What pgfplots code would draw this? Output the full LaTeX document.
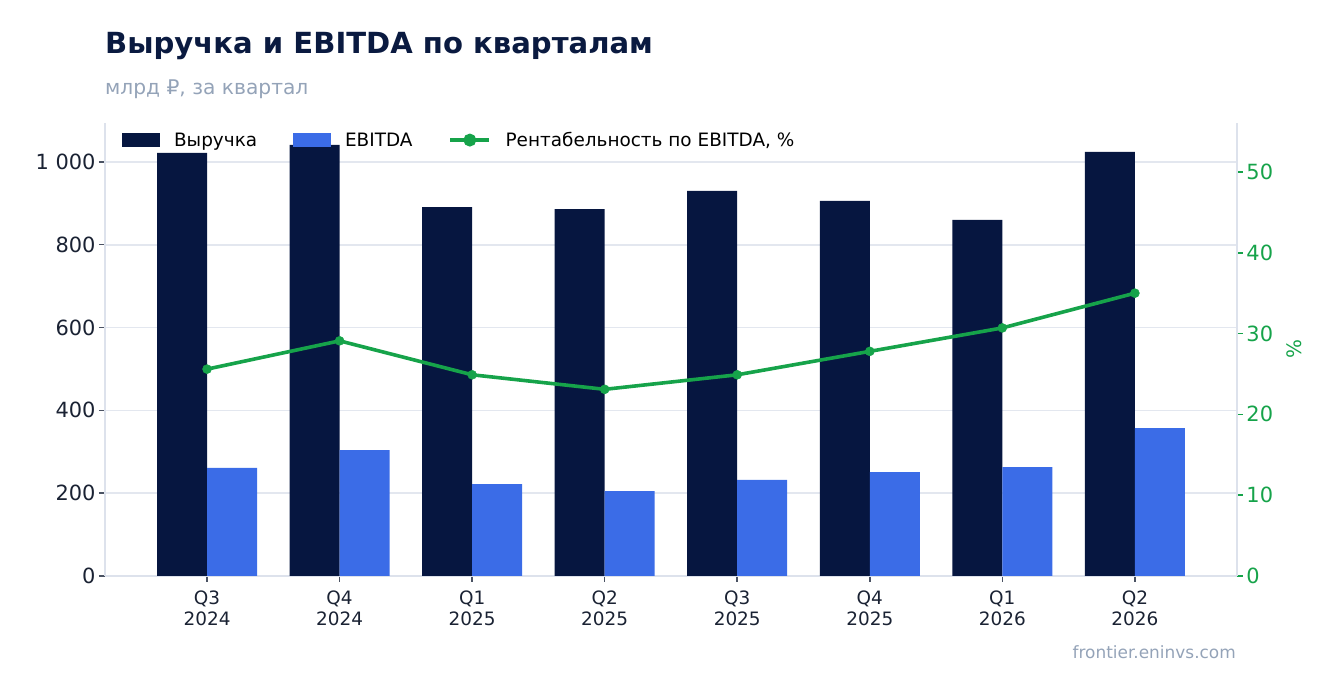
\documentclass[border=0pt]{standalone}
\usepackage{pgfplots}
\pgfplotsset{compat=1.18}
\usepackage{fontspec}
\setmainfont{DejaVu Sans}
\definecolor{navy}{HTML}{061640}
\definecolor{ebblue}{HTML}{3B6CE7}
\definecolor{mgreen}{HTML}{16A34A}
\definecolor{gridgray}{HTML}{E3E7EF}
\definecolor{axisgray}{HTML}{DDE2EC}
\definecolor{subgray}{HTML}{94A3B8}
\definecolor{titlenavy}{HTML}{0A1A40}
\definecolor{tickdark}{HTML}{1A2233}
\definecolor{tickmark}{HTML}{4A5263}
\begin{document}
\begin{tikzpicture}
\path[use as bounding box] (0,0) rectangle (1336bp,693bp);
\node[anchor=base west, inner sep=0, text=titlenavy, font=\bfseries\fontsize{29.2}{34}\selectfont] at (105bp,639bp) {Выручка и EBITDA по кварталам};
\node[anchor=base west, inner sep=0, text=subgray, font=\fontsize{20.3}{24}\selectfont] at (105bp,598bp) {млрд ₽, за квартал};
\node[anchor=base east, inner sep=0, text=subgray, font=\fontsize{17}{20}\selectfont] at (1236bp,35bp) {frontier.eninvs.com};
\begin{axis}[
  at={(105bp,117bp)}, anchor=south west,
  scale only axis, width=1132bp, height=453bp,
  xmin=-0.77, xmax=7.77, ymin=0, ymax=1094,
  axis x line*=bottom, axis y line*=left,
  axis line style={draw=axisgray, line width=1.2bp},
  xtick={0,...,7},
  xticklabels={{Q3\\2024},{Q4\\2024},{Q1\\2025},{Q2\\2025},{Q3\\2025},{Q4\\2025},{Q1\\2026},{Q2\\2026}},
  xticklabel style={align=center, font=\fontsize{18.5}{21}\selectfont, text=tickdark, yshift=-5bp},
  ytick={0,200,400,600,800,1000},
  yticklabels={0,200,400,600,800,{1 000}},
  yticklabel style={font=\fontsize{21}{24}\selectfont, text=tickdark},
  tick align=outside, major tick length=6bp,
  major tick style={draw=tickmark, line width=1.5bp},
  ymajorgrids, grid style={draw=gridgray, line width=1.6bp},
]
\addplot[ybar, bar width=50bp, bar shift=-25bp, fill=navy, draw=none] coordinates {
(0,1022) (1,1041) (2,891) (3,886) (4,930) (5,906) (6,860) (7,1024)};
\addplot[ybar, bar width=50bp, bar shift=25bp, fill=ebblue, draw=none] coordinates {
(0,261) (1,304) (2,222) (3,205) (4,232) (5,251) (6,263) (7,357)};
\end{axis}
\begin{axis}[
  at={(105bp,117bp)}, anchor=south west,
  scale only axis, width=1132bp, height=453bp,
  xmin=-0.77, xmax=7.77, ymin=0, ymax=56.06,
  axis x line=none, axis y line*=right,
  axis line style={draw=axisgray, line width=1.2bp},
  ytick={0,10,20,30,40,50},
  /pgf/number format/assume math mode=true,
  yticklabel style={font=\fontsize{21}{24}\selectfont, text=mgreen},
  tick align=outside, major tick length=6bp,
  major tick style={draw=mgreen, line width=1.5bp},
  ylabel={\%}, ylabel shift=7bp, ylabel style={text=mgreen, font=\fontsize{20}{24}\selectfont},
  legend style={draw=none, fill=none, at={(0,1)}, anchor=north west, xshift=14bp, yshift=-5bp,
    font=\fontsize{18.5}{21}\selectfont, text=black,
    /tikz/every odd column/.append style={column sep=12.5bp},
    /tikz/every even column/.append style={column sep=34bp}},
  legend columns=-1,
]
\addlegendimage{legend image code/.code={\fill[navy] (0bp,-6.5bp) rectangle (37bp,6.5bp);}}
\addlegendentry{Выручка}
\addlegendimage{legend image code/.code={\fill[ebblue] (0bp,-6.5bp) rectangle (37bp,6.5bp);}}
\addlegendentry{EBITDA}
\addplot[mgreen, line width=3.6bp, mark=*, mark size=4.5bp, mark options={line width=0.5bp, fill=mgreen},
  legend image code/.code={\draw[mgreen, line width=3.6bp] (0bp,0bp) -- (39bp,0bp); \fill[mgreen] (19.5bp,0bp) circle (4.6bp);}] coordinates {
(0,25.6) (1,29.1) (2,24.9) (3,23.1) (4,24.9) (5,27.8) (6,30.7) (7,35.0)};
\addlegendentry{Рентабельность по EBITDA, \%}
\end{axis}
\end{tikzpicture}
\end{document}
